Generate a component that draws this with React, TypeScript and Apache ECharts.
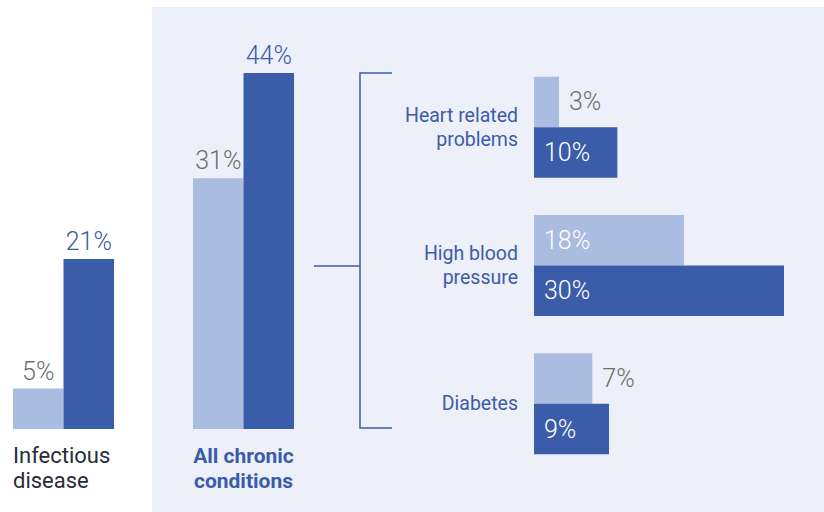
import React, { useEffect, useRef } from "react";
import * as echarts from "echarts";

// ---- data ----
const groupCategories = ["Infectious disease", "All chronic conditions"];
const groupLight = [5, 31];
const groupDark = [21, 44];

const detailCategories = ["Heart related problems", "High blood pressure", "Diabetes"];
const detailLight = [3, 18, 7];
const detailDark = [10, 30, 9];

// ---- styles ----
const DARK = "#3b5ca8";
const LIGHT = "#aabde0";
const GRAY = "#6e6e6e";
const PANEL = "#edf0f8";
const FONT = "Roboto";

const splitTwo = (s: string) => {
  const words = s.split(" ");
  if (words.length < 2) return s;
  if (words.length === 2) return words.join("\n");
  return words.slice(0, 2).join(" ") + "\n" + words.slice(2).join(" ");
};

export default function App() {
  const ref = useRef<HTMLDivElement>(null);

  useEffect(() => {
    if (!ref.current) return;
    const chart = echarts.init(ref.current, null, { renderer: "svg" });

    const valueLabel = (color: string, position: any, distance = 6) => ({
      show: true,
      position,
      distance,
      color,
      fontFamily: FONT,
      fontWeight: 300,
      fontSize: 25,
      formatter: (p: any) => `${p.value}%`,
    });

    const verticalGrids = [
      { left: 13, width: 101, top: 73, height: 356 },
      { left: 193, width: 101, top: 73, height: 356 },
    ];

    const xAxes: any[] = groupCategories.map((c, i) => ({
      type: "category",
      gridIndex: i,
      data: [c],
      axisLine: { show: false },
      axisTick: { show: false },
      axisLabel:
        i === 0
          ? {
              margin: 14,
              formatter: (v: string) => `{a|${splitTwo(v)}}`,
              rich: {
                a: {
                  width: 101,
                  align: "left",
                  fontFamily: FONT,
                  fontSize: 22,
                  lineHeight: 25,
                  color: "#2a2b3b",
                },
              },
            }
          : {
              margin: 14,
              formatter: (v: string) => splitTwo(v),
              fontFamily: FONT,
              fontSize: 21,
              fontWeight: "bold",
              lineHeight: 25,
              color: DARK,
            },
    }));
    xAxes.push({
      type: "value",
      gridIndex: 2,
      min: 0,
      max: 30,
      show: false,
    });

    const yAxes: any[] = groupCategories.map((_, i) => ({
      type: "value",
      gridIndex: i,
      min: 0,
      max: 44,
      show: false,
    }));
    yAxes.push({
      type: "category",
      gridIndex: 2,
      inverse: true,
      data: detailCategories,
      axisLine: { show: false },
      axisTick: { show: false },
      axisLabel: {
        margin: 16,
        formatter: (v: string) => splitTwo(v),
        fontFamily: FONT,
        fontSize: 19.5,
        lineHeight: 24,
        color: DARK,
      },
    });

    const series: any[] = [];
    groupCategories.forEach((_, i) => {
      series.push({
        name: "Lighter",
        type: "bar",
        xAxisIndex: i,
        yAxisIndex: i,
        data: [groupLight[i]],
        barGap: "0%",
        barCategoryGap: "0%",
        itemStyle: { color: LIGHT },
        label: valueLabel(GRAY, "top", 5),
      });
      series.push({
        name: "Darker",
        type: "bar",
        xAxisIndex: i,
        yAxisIndex: i,
        data: [groupDark[i]],
        barGap: "0%",
        barCategoryGap: "0%",
        itemStyle: { color: DARK },
        label: valueLabel(DARK, "top", 5),
      });
    });

    series.push({
      name: "Lighter",
      type: "bar",
      xAxisIndex: 2,
      yAxisIndex: 2,
      barWidth: 50.5,
      barGap: "0%",
      itemStyle: { color: LIGHT },
      data: detailLight.map((v) => ({
        value: v,
        label:
          v >= 10
            ? valueLabel("#ffffff", "insideLeft", 10)
            : valueLabel(GRAY, "right", 10),
      })),
    });
    series.push({
      name: "Darker",
      type: "bar",
      xAxisIndex: 2,
      yAxisIndex: 2,
      barWidth: 50.5,
      barGap: "0%",
      itemStyle: { color: DARK },
      label: valueLabel("#ffffff", "insideLeft", 10),
      data: detailDark,
    });

    const lineStyle = { stroke: DARK, lineWidth: 1.5 };

    chart.setOption({
      animation: false,
      backgroundColor: "#ffffff",
      textStyle: { fontFamily: FONT },
      grid: [...verticalGrids, { left: 534, width: 250, top: 58, height: 415 }],
      xAxis: xAxes,
      yAxis: yAxes,
      series,
      graphic: [
        {
          type: "rect",
          z: -10,
          silent: true,
          shape: { x: 152, y: 7, width: 672, height: 505 },
          style: { fill: PANEL },
        },
        {
          type: "polyline",
          z: 1,
          silent: true,
          shape: { points: [[392, 73], [360, 73], [360, 428], [392, 428]] },
          style: { ...lineStyle, fill: null },
        },
        {
          type: "line",
          z: 1,
          silent: true,
          shape: { x1: 314, y1: 266, x2: 360, y2: 266 },
          style: lineStyle,
        },
      ],
    });

    return () => chart.dispose();
  }, []);

  return (
    <div
      ref={ref}
      style={{ position: "fixed", left: 0, top: 0, width: 824, height: 512 }}
    />
  );
}
